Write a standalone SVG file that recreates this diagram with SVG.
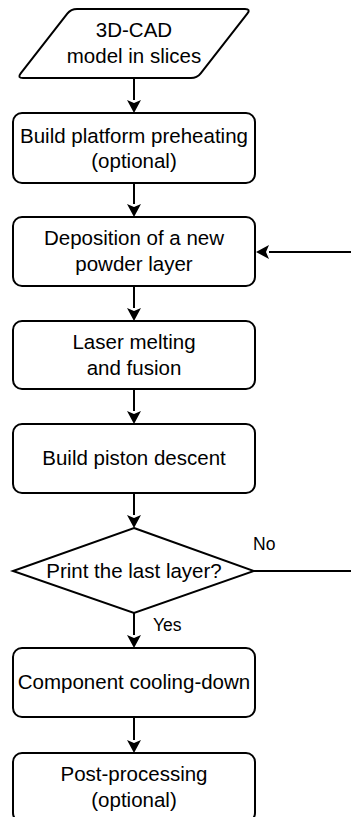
<svg xmlns="http://www.w3.org/2000/svg" width="351" height="817" viewBox="0 0 351 817">
  <style>
    .shape { fill: #ffffff; stroke: #000000; stroke-width: 2; }
    .label { font-family: "Liberation Sans", Arial, sans-serif; font-size: 20.5px; fill: #000000; text-anchor: middle; }
    .edge-label { font-family: "Liberation Sans", Arial, sans-serif; font-size: 17.5px; fill: #000000; }
    .edge { fill: none; stroke: #000000; stroke-width: 2; }
  </style>
  <defs>
    <marker id="arrow" markerUnits="userSpaceOnUse" viewBox="-7 -8 16 16" refX="-6" refY="0" markerWidth="16" markerHeight="16" orient="auto">
      <path d="M7,0 L-6,-7 L-3,0 L-6,7 Z" fill="#000000" stroke="none"/>
    </marker>
  </defs>
  <rect width="351" height="817" fill="#ffffff"/>

  <!-- connectors -->
  <g id="connectors">
    <line class="edge" x1="134" y1="78" x2="134" y2="100" marker-end="url(#arrow)"/>
    <line class="edge" x1="134" y1="183" x2="134" y2="204" marker-end="url(#arrow)"/>
    <line class="edge" x1="134" y1="286" x2="134" y2="308" marker-end="url(#arrow)"/>
    <line class="edge" x1="134" y1="389" x2="134" y2="411" marker-end="url(#arrow)"/>
    <line class="edge" x1="134" y1="493" x2="134" y2="515" marker-end="url(#arrow)"/>
    <line class="edge" x1="134" y1="613" x2="134" y2="635" marker-end="url(#arrow)"/>
    <line class="edge" x1="134" y1="717" x2="134" y2="740" marker-end="url(#arrow)"/>
    <polyline class="edge" points="254,571 362,571 362,252 269,252" marker-end="url(#arrow)"/>
    <text class="edge-label" x="253" y="550">No</text>
    <text class="edge-label" x="153" y="631">Yes</text>
  </g>

  <!-- input data -->
  <g id="node-input">
    <path class="shape" d="M77,9 L245,9 Q251,9 247.3,13.7 L200.7,73.3 Q197,78 191,78 L23,78 Q17,78 20.7,73.3 L67.3,13.7 Q71,9 77,9 Z"/>
    <text class="label" x="134" y="37">3D-CAD</text>
    <text class="label" x="134" y="63">model in slices</text>
  </g>

  <g id="node-preheat">
    <rect class="shape" x="13" y="113" width="242" height="70" rx="9"/>
    <text class="label" x="134" y="143">Build platform preheating</text>
    <text class="label" x="134" y="168">(optional)</text>
  </g>

  <g id="node-deposition">
    <rect class="shape" x="13" y="217" width="242" height="69" rx="9"/>
    <text class="label" x="134" y="245">Deposition of a new</text>
    <text class="label" x="134" y="271">powder layer</text>
  </g>

  <g id="node-melting">
    <rect class="shape" x="13" y="321" width="242" height="68" rx="9"/>
    <text class="label" x="134" y="349">Laser melting</text>
    <text class="label" x="134" y="375">and fusion</text>
  </g>

  <g id="node-piston">
    <rect class="shape" x="13" y="424" width="242" height="69" rx="9"/>
    <text class="label" x="134" y="465">Build piston descent</text>
  </g>

  <g id="node-decision">
    <polygon class="shape" points="134,528 254,571 134,613 13,571"/>
    <text class="label" x="134" y="578">Print the last layer?</text>
  </g>

  <g id="node-cooling">
    <rect class="shape" x="13" y="648" width="242" height="69" rx="9"/>
    <text class="label" x="134" y="689">Component cooling-down</text>
  </g>

  <g id="node-post">
    <rect class="shape" x="13" y="753" width="242" height="69" rx="9"/>
    <text class="label" x="134" y="781">Post-processing</text>
    <text class="label" x="134" y="807">(optional)</text>
  </g>
</svg>
